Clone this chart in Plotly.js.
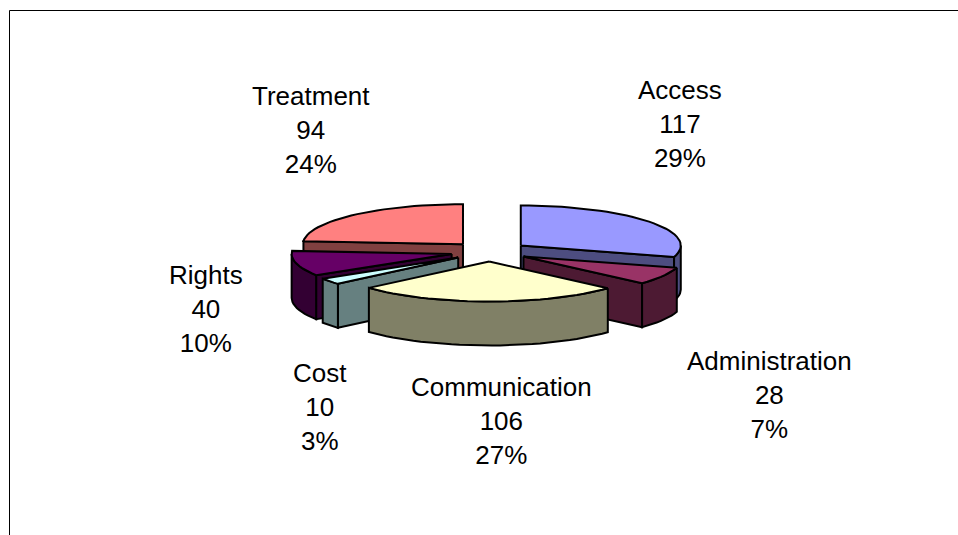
<!DOCTYPE html>
<html>
<head>
<meta charset="utf-8">
<script src="https://cdn.plot.ly/plotly-3.0.1.min.js"></script>
<style>html,body{margin:0;padding:0;background:#fff}#chart{width:958px;height:535px}</style>
</head>
<body>
<div id="chart"></div>
<script>
// Data
const categories = ["Access", "Administration", "Communication", "Cost", "Rights", "Treatment"];
const counts = [117, 28, 106, 10, 40, 94];
const percents = ["29%", "7%", "27%", "3%", "10%", "24%"];

// Styles
const topColors = ["#9999FF", "#993366", "#FFFFCC", "#CCFFFF", "#660066", "#FF8080"];
const wallColors = ["#4D4D80", "#4D1A33", "#808066", "#668080", "#330033", "#804040"];
const paintOrder = [5, 0, 4, 3, 1, 2];
const labelX = [680, 769.5, 501, 320, 206, 311];
const labelY = [123.5, 394.5, 420.5, 406.5, 308.5, 129.5];

// Projection of the exploded 3D pie
const view = {cx: 489.5, cy: 251.5, rx: 160, ry: 40, depth: 44, explodeX: 39, explodeY: 10};
const total = counts.reduce((a, b) => a + b, 0);
const rad = d => d * Math.PI / 180;

const traces = [];
function poly(pts, color) {
  traces.push({
    type: "scatter", mode: "lines",
    x: pts.map(p => p[0]), y: pts.map(p => p[1]),
    fill: "toself", fillcolor: color,
    line: {color: "#000", width: 2, shape: "linear"},
    hoverinfo: "skip", showlegend: false
  });
}
function arc(ox, oy, a0, a1, dz) {
  const pts = [], n = Math.max(2, Math.ceil(Math.abs(a1 - a0) / 3));
  for (let i = 0; i <= n; i++) {
    const a = rad(a0 + (a1 - a0) * i / n);
    pts.push([ox + view.rx * Math.sin(a), oy - view.ry * Math.cos(a) + dz]);
  }
  return pts;
}

const slices = [];
let running = 0;
counts.forEach((v, i) => {
  const a0 = running / total * 360, a1 = (running + v) / total * 360;
  running += v;
  const mid = rad((a0 + a1) / 2);
  slices[i] = {a0, a1,
    ox: view.cx + view.explodeX * Math.sin(mid),
    oy: view.cy - view.explodeY * Math.cos(mid)};
});

paintOrder.forEach(i => {
  const s = slices[i], D = view.depth;
  const face = a => {
    const rim = arc(s.ox, s.oy, a, a, 0)[0];
    poly([[s.ox, s.oy], rim, [rim[0], rim[1] + D], [s.ox, s.oy + D], [s.ox, s.oy]], wallColors[i]);
  };
  if (Math.sin(rad(s.a0)) < -1e-6) face(s.a0);
  if (Math.sin(rad(s.a1)) > 1e-6) face(s.a1);
  const w0 = Math.max(s.a0, 90), w1 = Math.min(s.a1, 270);
  if (w1 > w0) {
    const top = arc(s.ox, s.oy, w0, w1, 0), bot = arc(s.ox, s.oy, w0, w1, D).reverse();
    poly(top.concat(bot, [top[0]]), wallColors[i]);
  }
  poly([[s.ox, s.oy]].concat(arc(s.ox, s.oy, s.a0, s.a1, 0), [[s.ox, s.oy]]), topColors[i]);
});

const annotations = categories.map((c, i) => ({
  x: labelX[i], y: labelY[i], xref: "x", yref: "y",
  text: c + "<br>" + counts[i] + "<br>" + percents[i],
  showarrow: false, align: "center", xanchor: "center", yanchor: "middle",
  font: {family: "Liberation Sans, Arial, sans-serif", size: 26, color: "#000"}
}));

const hidden = {visible: false, fixedrange: true};
Plotly.newPlot("chart", traces, {
  width: 958, height: 535,
  margin: {l: 0, r: 0, t: 0, b: 0},
  paper_bgcolor: "#fff", plot_bgcolor: "#fff",
  xaxis: Object.assign({range: [0, 958]}, hidden),
  yaxis: Object.assign({range: [535, 0]}, hidden),
  annotations,
  shapes: [
    {type: "line", xref: "x", yref: "y", x0: 9.5, x1: 958, y0: 10.5, y1: 10.5, line: {color: "#000", width: 1}},
    {type: "line", xref: "x", yref: "y", x0: 9.5, x1: 9.5, y0: 10.5, y1: 535, line: {color: "#000", width: 1}}
  ],
  showlegend: false
}, {displayModeBar: false, staticPlot: true});
</script>
</body>
</html>
